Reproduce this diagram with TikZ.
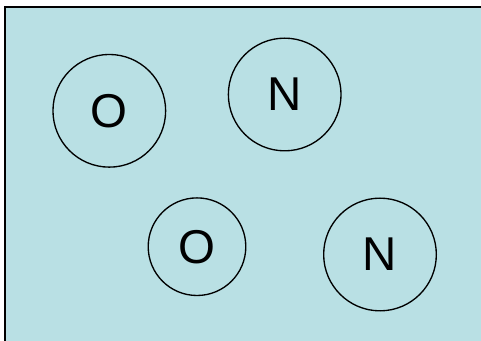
\documentclass[tikz,border=0pt]{standalone}
\usepackage{fontspec}
\setmainfont{Liberation Sans}
\definecolor{bgblue}{RGB}{185,224,228}
\begin{document}
\begin{tikzpicture}[x=0.75pt,y=-0.75pt,
  atom/.style={circle,draw=black,line width=1pt,inner sep=0pt,font=\fontsize{35.6}{40}\selectfont},
  big/.style={atom,minimum size=84.5pt},
  small/.style={atom,minimum size=73.2pt}]
\useasboundingbox (0,0) rectangle (481,341);
\fill[bgblue] (5,7) rectangle (481,341);
\draw[line width=1.5pt,line cap=rect] (5,341) -- (5,7) -- (481,7);
\node[big] (o1) at (109.3,110.8) {O};
\node[big] (n1) at (284.7,94.5) {N};
\node[small] (o2) at (197,246.7) {O};
\node[big] (n2) at (380,254.5) {N};
\end{tikzpicture}
\end{document}
